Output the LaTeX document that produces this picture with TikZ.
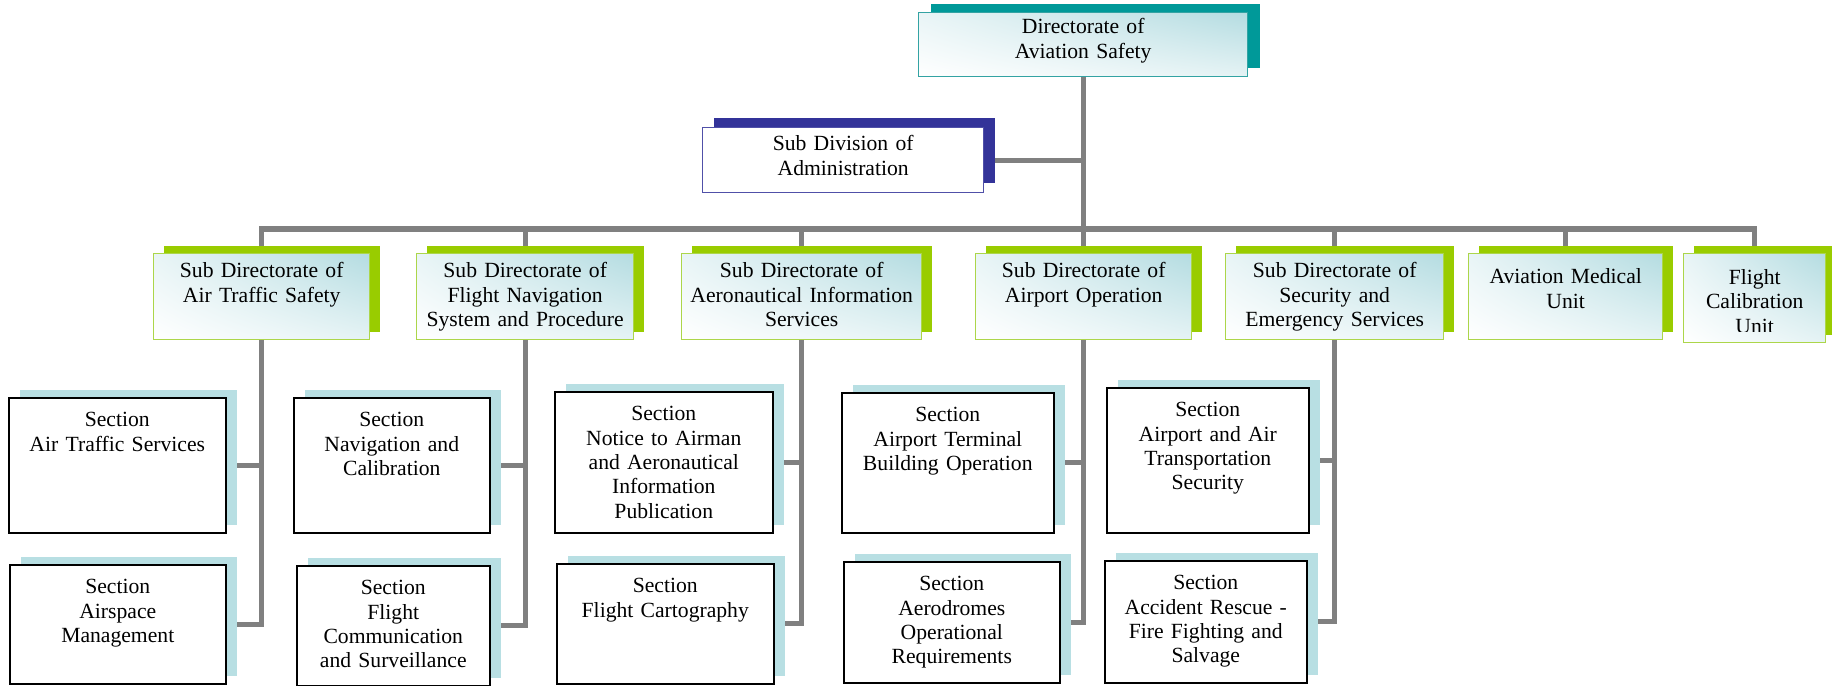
\documentclass[tikz,border=0pt]{standalone}
\usepackage{fontspec}
\setmainfont{Liberation Serif}
\usetikzlibrary{shadows,shadings,backgrounds}

\definecolor{tealshade}{HTML}{009999}
\definecolor{tealline}{HTML}{33A3A3}
\definecolor{navyshade}{HTML}{333399}
\definecolor{navyline}{HTML}{5050A8}
\definecolor{limeshade}{HTML}{99CC00}
\definecolor{limeline}{HTML}{ACD64A}
\definecolor{iceshade}{HTML}{B8DFE3}
\definecolor{icefill}{HTML}{B4DCE1}
\definecolor{linkgray}{HTML}{808080}

\begin{document}
\begin{tikzpicture}[
    every node/.style={font=\fontsize{15.4}{17.3}\selectfont, align=center, inner sep=0pt, anchor=north west},
    frosted/.style={upper right=icefill, upper left=icefill!30!white, lower right=icefill!35!white, lower left=white},
    headbox/.style={frosted, draw=tealline, line width=1pt, general shadow={fill=tealshade, shadow xshift=0.3cm, shadow yshift=0.225cm}},
    adminbox/.style={fill=white, draw=navyline, line width=1pt, general shadow={fill=navyshade, shadow xshift=0.27cm, shadow yshift=0.25cm}},
    subbox/.style={frosted, draw=limeline, line width=1pt, text height=0.6cm, text depth=1.55cm, general shadow={fill=limeshade, shadow xshift=0.25cm, shadow yshift=0.2cm}},
    secbox/.style={fill=white, draw=black, line width=1.1pt, text height=0.725cm, general shadow={fill=iceshade, shadow xshift=0.27cm, shadow yshift=0.2cm}},
    link/.style={draw=linkgray, line width=3.8pt}
  ]
    \useasboundingbox (0,0) rectangle (45.8,17.15);

    % top of the chart
    \node[headbox, text width=8.225cm, text height=0.525cm, text depth=1.075cm] (dir) at (22.95,16.85) {Directorate of\\Aviation Safety};
    \node[adminbox, text width=7.025cm, text height=0.575cm, text depth=1.05cm] (adm) at (17.55,13.975) {Sub Division of\\Administration};

    % sub directorates and units
    \node[subbox, text width=5.4cm] (ats) at (3.825,10.825) {Sub Directorate of\\Air Traffic Safety};
    \node[subbox, text width=5.425cm] (fns) at (10.4,10.825) {Sub Directorate of\\Flight Navigation\\System and Procedure};
    \node[subbox, text width=6cm] (ais) at (17.025,10.825) {Sub Directorate of\\Aeronautical Information\\Services};
    \node[subbox, text width=5.4cm] (apo) at (24.375,10.825) {Sub Directorate of\\Airport Operation};
    \node[subbox, text width=5.45cm] (ses) at (30.625,10.825) {Sub Directorate of\\Security and\\Emergency Services};
    \node[subbox, text width=4.85cm, text height=0.75cm, text depth=1.4cm] (med) at (36.7,10.825) {Aviation Medical\\Unit};
    \node[subbox, text width=3.55cm, text height=0.75cm, text depth=1.475cm,
          path picture={
            \clip (path picture bounding box.south west) ++(0,0.28) rectangle (path picture bounding box.north east);
            \node[anchor=north, text width=3.55cm, text height=0.75cm] at (path picture bounding box.north) {Flight\\Calibration\\Unit};
          }] (cal) at (42.075,10.825) {};

    % sections
    \node[secbox, text width=5.425cm, text depth=2.65cm] (ats-a) at (0.2,7.225) {Section\\Air Traffic Services};
    \node[secbox, text width=5.4cm, text depth=2.25cm] (ats-b) at (0.225,3.05) {Section\\Airspace\\Management};
    \node[secbox, text width=4.9cm, text depth=2.65cm] (fns-a) at (7.325,7.225) {Section\\Navigation and\\Calibration};
    \node[secbox, text width=4.825cm, text depth=2.275cm] (fns-b) at (7.4,3.025) {Section\\Flight\\Communication\\and Surveillance};
    \node[secbox, text width=5.45cm, text depth=2.8cm] (ais-a) at (13.85,7.375) {Section\\Notice to Airman\\and Aeronautical\\Information\\Publication};
    \node[secbox, text width=5.425cm, text depth=2.275cm] (ais-b) at (13.9,3.075) {Section\\Flight Cartography};
    \node[secbox, text width=5.3cm, text depth=2.775cm] (apo-a) at (21.025,7.35) {Section\\Airport Terminal\\Building Operation};
    \node[secbox, text width=5.4cm, text depth=2.3cm] (apo-b) at (21.075,3.125) {Section\\Aerodromes\\Operational\\Requirements};
    \node[secbox, text width=5.05cm, text depth=2.9cm] (ses-a) at (27.65,7.475) {Section\\Airport and Air\\Transportation\\Security};
    \node[secbox, text width=5.05cm, text depth=2.325cm] (ses-b) at (27.6,3.15) {Section\\Accident Rescue -\\Fire Fighting and\\Salvage};

    \coordinate (bus) at (0,11.425);

    % connectors behind the boxes
    \begin{scope}[on background layer]
      \draw[link] (dir.south) -- (dir.south |- bus);
      \draw[link] (adm.east) -- (adm.east -| dir.south);
      \draw[link] (ats.north) -- (ats.north |- bus) -- (cal.north |- bus) -- (cal.north);
      \foreach \n in {fns,ais,apo,ses,med}
        \draw[link] (\n.north) -- (\n.north |- bus);
      \foreach \n in {ats,fns,ais,apo,ses} {
        \draw[link] (\n.south) -- (\n.south |- \n-b.east) -- (\n-b.east);
        \draw[link] (\n-a.east) -- (\n-a.east -| \n.south);
      }
    \end{scope}
\end{tikzpicture}
\end{document}
